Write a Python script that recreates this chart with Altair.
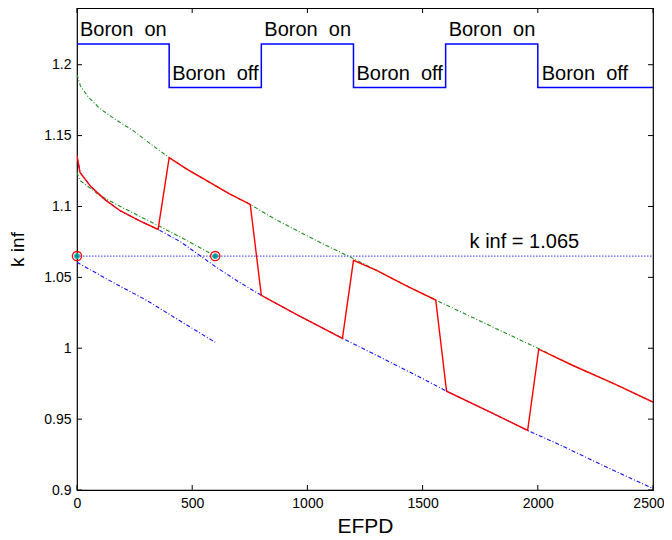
import altair as alt
import pandas as pd

# ---------------- data ----------------
# upper green dash-dot curve (boron off trajectory)
up_x = [0, 15, 50, 100, 170, 244, 320, 400, 480, 565, 660, 752, 860, 970, 1075, 1178,
        1300, 1430, 1557, 1700, 1850, 2000, 2150, 2330, 2500]
up_y = [1.193, 1.185, 1.177, 1.169, 1.161, 1.1535, 1.144, 1.1345, 1.126, 1.118, 1.109,
        1.1014, 1.091, 1.0817, 1.073, 1.065, 1.055, 1.044, 1.034, 1.023, 1.0115, 1.000,
        0.988, 0.975, 0.962]

# lower green dash-dot curve (ends at first k inf = 1.065 crossing)
lg_x = [0, 13, 100, 200, 352, 480, 600]
lg_y = [1.124, 1.1183, 1.1077, 1.099, 1.0866, 1.0757, 1.065]

# long blue dash-dot curve (boron on trajectory)
bl_x = [0, 13, 60, 120, 187, 270, 352, 450, 600, 700, 800, 950, 1152, 1300, 1513, 1604,
        1780, 1956, 2100, 2300, 2500]
bl_y = [1.136, 1.124, 1.114, 1.105, 1.097, 1.090, 1.0838, 1.075, 1.0577, 1.047, 1.0373,
        1.024, 1.007, 0.995, 0.9775, 0.9697, 0.956, 0.942, 0.9315, 0.916, 0.901]

# short blue dash-dot curve
bs_x = [0, 150, 300, 450, 600]
bs_y = [1.0606, 1.047, 1.034, 1.019, 1.0042]

# red solid trajectory
rd_x = [0, 13, 60, 120, 187, 270, 352, 400, 480, 565, 660, 752, 800, 950, 1152, 1200,
        1300, 1430, 1557, 1604, 1780, 1956, 2004, 2150, 2330, 2500]
rd_y = [1.136, 1.124, 1.114, 1.105, 1.097, 1.090, 1.0838, 1.1345, 1.126, 1.118, 1.109,
        1.1014, 1.0373, 1.024, 1.007, 1.062, 1.055, 1.044, 1.034, 0.9697, 0.956, 0.942,
        0.9993, 0.988, 0.975, 0.962]

# boron on/off step indicator
st_x = [0, 400, 400, 800, 800, 1200, 1200, 1600, 1600, 2000, 2000, 2500]
st_y = [1.2146, 1.2146, 1.184, 1.184, 1.2146, 1.2146, 1.184, 1.184, 1.2146, 1.2146, 1.184, 1.184]

# target k inf line
k_x = [0, 2500]
k_y = [1.065, 1.065]

# marked points
mk_x = [0, 600]
mk_y = [1.065, 1.065]

# annotations
lab_text = ["Boron\u00a0 on", "Boron\u00a0 off", "Boron\u00a0 on", "Boron\u00a0 off",
            "Boron\u00a0 on", "Boron\u00a0 off", "k inf = 1.065"]
lab_x = [13, 413, 813, 1213, 1613, 2017, 1704]
lab_y = [1.2201, 1.1894, 1.2201, 1.1894, 1.2201, 1.1894, 1.0704]

x_ticks = [0, 500, 1000, 1500, 2000, 2500]
y_ticks = [0.9, 0.95, 1.0, 1.05, 1.1, 1.15, 1.2]

# ---------------- chart ----------------
W, H = 576, 482
FONT = "Liberation Sans"

xs = alt.Scale(domain=[0, 2500], nice=False, zero=False)
ys = alt.Scale(domain=[0.9, 1.24], nice=False, zero=False)

last_x = "datum.value >= 2500"
x_axis = alt.Axis(values=x_ticks, format="d", title="EFPD", ticks=False, domain=False,
                  grid=False, labelFont=FONT, labelFontSize=14, labelColor="black",
                  labelPadding=6, labelFlush=False, labelOverlap=False,
                  labelAlign={"condition": {"test": last_x, "value": "right"}, "value": "center"},
                  labelOffset={"condition": {"test": last_x, "value": 11}, "value": 0},
                  titleFont=FONT, titleFontSize=21, titleFontWeight="normal",
                  titleColor="black", titleY=42, titleBaseline="alphabetic")
y_axis = alt.Axis(values=y_ticks, format="~g", title="k inf", ticks=False, domain=False,
                  grid=False, labelFont=FONT, labelFontSize=14, labelColor="black",
                  labelPadding=6, labelFlush=False, labelOverlap=False,
                  titleFont=FONT, titleFontSize=19, titleFontWeight="normal",
                  titleColor="black", titleX=-54, titleY=241, titleAngle=270,
                  titleAlign="center", titleBaseline="alphabetic")

X = alt.X("x:Q", scale=xs, axis=x_axis)
Y = alt.Y("y:Q", scale=ys, axis=y_axis)


def frame(xv, yv):
    return pd.DataFrame({"x": xv, "y": yv, "i": list(range(len(xv)))})


def line(xv, yv, color, width, dash=None):
    kw = dict(color=color, strokeWidth=width, clip=True)
    if dash:
        kw["strokeDash"] = dash
    return alt.Chart(frame(xv, yv)).mark_line(**kw).encode(x=X, y=Y, order="i:Q")


DD = [4, 2, 1, 2]
layers = [
    line(k_x, k_y, "#5a5aff", 1.2, [1.5, 1.5]),
    line(up_x, up_y, "#1a8c1a", 1.1, DD),
    line(lg_x, lg_y, "#1a8c1a", 1.1, DD),
    line(bl_x, bl_y, "#1010ff", 1.1, DD),
    line(bs_x, bs_y, "#1010ff", 1.1, DD),
    line(rd_x, rd_y, "#ff0000", 1.4),
    line(st_x, st_y, "#0000ff", 1.5),
]

marks = frame(mk_x, mk_y)
layers.append(alt.Chart(marks).mark_point(shape="circle", filled=False, color="#ff0000",
                                          size=85, strokeWidth=1.3, opacity=1)
              .encode(x=X, y=Y))
layers.append(alt.Chart(marks).mark_point(shape="circle", filled=True, color="#1fb5b5",
                                          size=34, opacity=1)
              .encode(x=X, y=Y))
layers.append(alt.Chart(marks).mark_point(shape="cross", filled=True, color="#0a8f8f",
                                          size=18, opacity=1)
              .encode(x=X, y=Y))

labels = pd.DataFrame({"x": lab_x, "y": lab_y, "t": lab_text})
layers.append(alt.Chart(labels).mark_text(align="left", baseline="alphabetic", font=FONT,
                                          fontSize=20, color="black")
              .encode(x=X, y=Y, text="t:N"))

# inward tick marks on all four sides
xt = pd.DataFrame({"x": x_ticks})
yt = pd.DataFrame({"y": y_ticks})
TL = 5
layers.append(alt.Chart(xt).mark_rule(color="black", strokeWidth=1)
              .encode(x=X, y=alt.value(H), y2=alt.value(H - TL)))
layers.append(alt.Chart(xt).mark_rule(color="black", strokeWidth=1)
              .encode(x=X, y=alt.value(0), y2=alt.value(TL)))
layers.append(alt.Chart(yt).mark_rule(color="black", strokeWidth=1)
              .encode(y=Y, x=alt.value(0), x2=alt.value(TL)))
layers.append(alt.Chart(yt).mark_rule(color="black", strokeWidth=1)
              .encode(y=Y, x=alt.value(W), x2=alt.value(W - TL)))

chart = (
    alt.layer(*layers)
    .properties(width=W, height=H, autosize=alt.AutoSizeParams(type="none"),
                padding={"left": 69, "top": 0, "right": 11, "bottom": 48},
                background="white")
    .configure_view(stroke="black", strokeWidth=1.2)
)

chart.save("out.html", embed_options={"renderer": "svg", "actions": False})
